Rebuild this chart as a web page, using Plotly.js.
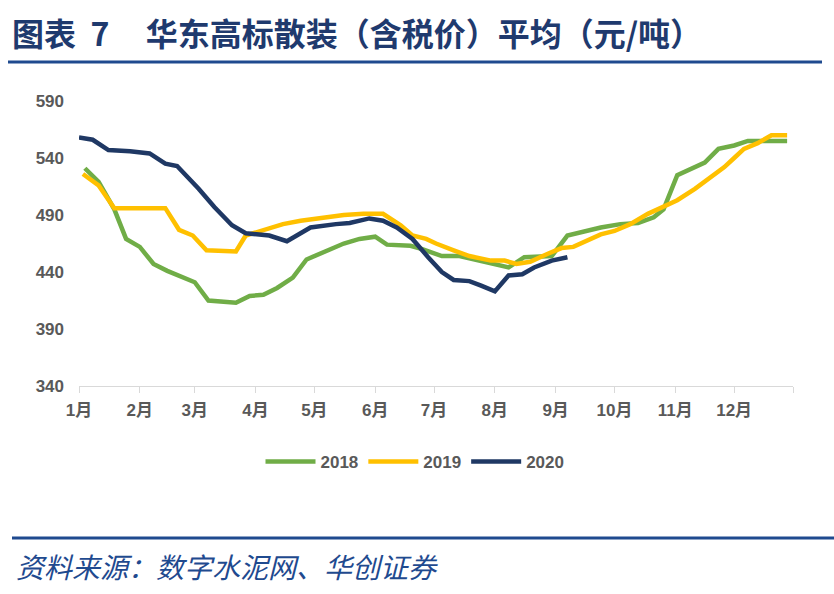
<!DOCTYPE html>
<html>
<head>
<meta charset="utf-8">
<script src="https://cdn.plot.ly/plotly-3.0.1.min.js"></script>
<style>
  html, body { margin: 0; padding: 0; background: #ffffff; }
  #chart { width: 834px; height: 594px; }
</style>
</head>
<body>
<div id="chart"></div>
<script>
// ---- data (month-day) ----
const monthLabels = ['1月','2月','3月','4月','5月','6月','7月','8月','9月','10月','11月','12月',''];
const monthTicks  = ['01-01','02-01','03-01','04-01','05-01','06-01','07-01','08-01','09-01','10-01','11-01','12-01','12-31'];
const yTicks = [340, 390, 440, 490, 540, 590];

const dates2018 = ['01-04','01-11','01-19','01-25','02-01','02-08','02-15','03-01','03-08','03-22','03-29','04-05','04-12','04-20','04-27','05-05','05-16','05-24','06-01','06-07','06-19','06-25','07-05','07-14','07-28','08-08','08-16','08-30','09-07','09-14','09-24','10-04','10-13','10-21','10-26','11-02','11-09','11-16','11-23','12-01','12-08','12-15','12-28'];
const values2018 = [531,519,495,469,462,447,441,431,415,413,419,420,426,435,451,457,465,469,471,464,463,460,454,454,448,444,453,454,472,475,479,482,483,488,495,525,531,536,548,551,555,555,555];

const dates2019 = ['01-03','01-11','01-19','02-14','02-21','02-28','03-07','03-22','03-27','04-08','04-15','04-24','05-02','05-16','05-26','06-05','06-14','06-20','06-27','07-02','07-11','07-19','07-30','08-06','08-12','08-19','08-28','09-04','09-10','09-17','09-24','10-01','10-09','10-18','10-26','11-02','11-11','11-19','11-26','12-01','12-06','12-13','12-20','12-28'];
const values2019 = [526,516,496,496,477,472,459,458,472,478,482,485,487,490,491,491,481,472,469,465,459,454,450,450,447,449,456,461,462,467,473,476,482,491,497,503,513,523,532,540,548,553,560,560];

const dates2020 = ['01-01','01-08','01-16','01-27','02-06','02-14','02-20','03-03','03-11','03-20','03-27','04-08','04-17','04-29','05-12','05-19','05-29','06-05','06-12','06-20','06-28','07-05','07-11','07-19','07-25','08-01','08-08','08-15','08-21','08-30','09-07'];
const values2020 = [558,556,547,546,544,535,533,513,497,481,474,472,467,479,482,483,487,485,479,469,453,440,433,432,428,423,437,438,444,450,453];

const seriesNames = ['2018','2019','2020'];
const seriesColors = ['#70AD47','#FFC000','#1F3864'];

// all years overlaid on a common (non-leap) calendar year
const BASE = '2001-';
const toDate = arr => arr.map(d => BASE + d);

const traces = [
  {x: toDate(dates2018), y: values2018},
  {x: toDate(dates2019), y: values2019},
  {x: toDate(dates2020), y: values2020}
].map((t, i) => Object.assign(t, {
  type: 'scatter', mode: 'lines', name: seriesNames[i],
  line: {color: seriesColors[i], width: 4.5},
  hoverinfo: 'skip'
}));

const gray = '#595959';
const tickFont = {family: 'Liberation Sans, Noto Sans CJK SC, sans-serif', size: 17, color: gray, weight: 'bold'};
const navy = '#1F4A8F';

const layout = {
  width: 834, height: 594,
  paper_bgcolor: '#ffffff', plot_bgcolor: '#ffffff',
  margin: {l: 79, r: 41, t: 101, b: 208},
  showlegend: true,
  title: {
    text: '图表\u00a0\u00a07\u00a0\u00a0\u00a0\u00a0\u00a0华东高标散装（含税价）平均（元/吨）',
    xref: 'container', yref: 'container', x: 12/834, y: 1 - 35/594,
    xanchor: 'left', yanchor: 'middle',
    font: {family: 'Noto Sans CJK SC, sans-serif', size: 32, color: '#1F3A6E', weight: 'bold'}
  },
  xaxis: {
    type: 'date',
    range: [BASE + '01-01', BASE + '12-31'],
    tickvals: toDate(monthTicks), ticktext: monthLabels,
    showgrid: false, zeroline: false,
    showline: true, linecolor: '#D9D9D9', linewidth: 1,
    ticks: 'outside', ticklen: 6, tickcolor: '#D9D9D9', tickwidth: 1,
    tickfont: tickFont, ticklabelstandoff: 3,
    fixedrange: true
  },
  yaxis: {
    range: [340, 590], tickvals: yTicks,
    showgrid: false, zeroline: false, showline: false,
    ticks: '', tickfont: tickFont, ticklabelstandoff: 14,
    fixedrange: true
  },
  legend: {
    orientation: 'h', x: (415 - 79) / 714, xanchor: 'center', y: (386 - 462) / 285, yanchor: 'middle',
    itemwidth: 50,
    font: {family: 'Liberation Sans, sans-serif', size: 17, color: gray, weight: 'bold'},
    bgcolor: 'rgba(0,0,0,0)', itemclick: false, itemdoubleclick: false
  },
  shapes: [
    {type: 'line', xref: 'paper', yref: 'paper', x0: (8-79)/714, x1: (822-79)/714,
     y0: (386-62)/285, y1: (386-62)/285, line: {color: navy, width: 3}},
    {type: 'line', xref: 'paper', yref: 'paper', x0: (12-79)/714, x1: (834-79)/714,
     y0: (386-538)/285, y1: (386-538)/285, line: {color: navy, width: 3}}
  ],
  annotations: [
    {text: '<i>资料来源：数字水泥网、华创证券</i>', xref: 'paper', yref: 'paper',
     x: (14-79)/714, y: (386-566)/285, xanchor: 'left', yanchor: 'middle', showarrow: false,
     font: {family: 'Noto Sans CJK SC, sans-serif', size: 28, color: '#1F4A8F'}}
  ]
};

Plotly.newPlot('chart', traces, layout, {displayModeBar: false, staticPlot: true});
</script>
</body>
</html>
